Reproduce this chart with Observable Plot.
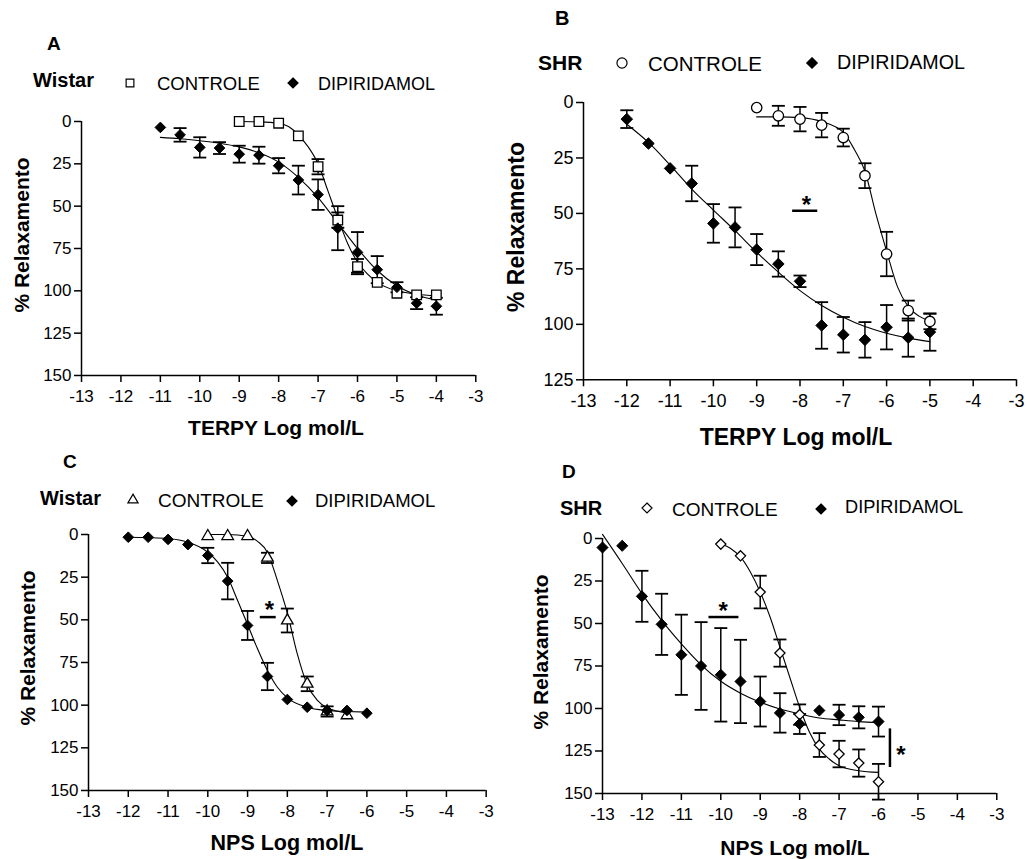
<!DOCTYPE html>
<html><head><meta charset="utf-8">
<script src="https://cdn.jsdelivr.net/npm/d3@7"></script>
<script src="https://cdn.jsdelivr.net/npm/@observablehq/plot@0.6"></script>
<style>
html,body{margin:0;padding:0;background:#fff;}
#root{position:relative;width:1027px;height:859px;overflow:hidden;background:#fff;}
</style></head><body><div id="root"></div>
<script>
// ---------- shared axes ----------
const xTicks = [-13,-12,-11,-10,-9,-8,-7,-6,-5,-4,-3];
const yTicks150 = [0,25,50,75,100,125,150];
const yTicks125 = [0,25,50,75,100,125];

// ---------- Panel A : Wistar, TERPY ----------
const aCtrlX = [-9,-8.5,-8,-7.5,-7,-6.5,-6,-5.5,-5,-4.5,-4];
const aCtrlY = [0,0,1,8.5,26.7,58.2,85.7,95,101.4,102.4,102.4];
const aCtrlE = [0,0,0,0,4.5,4.5,4.5,0,0,0,0];
const aDipX = [-11,-10.5,-10,-9.5,-9,-8.5,-8,-7.5,-7,-6.5,-6,-5.5,-5,-4.5,-4];
const aDipY = [3.5,7.9,15.3,15.7,19.3,19.9,26.1,34.6,43.2,63,77.3,87.5,97.9,107.3,109.1];
const aDipE = [0,4,6,3.5,5,5,4.5,8.5,9,13,12,8,3,3.5,5];
const aCtrlFitX = [-9,-8.5,-8,-7.75,-7.5,-7.25,-7,-6.75,-6.5,-6.25,-6,-5.75,-5.5,-5,-4.5,-4];
const aCtrlFitY = [0,0.2,1,3,8,15,25,41,57,72,83,90,95,100,102,103];
const aDipFitX = [-11,-10.5,-10,-9.5,-9,-8.5,-8,-7.5,-7,-6.5,-6,-5.5,-5,-4.5,-4];
const aDipFitY = [9.4,10.2,11.4,12.8,15,18.5,24,33,45,60,75,88,97,102.5,105.5];

// ---------- Panel B : SHR, TERPY ----------
const bCtrlX = [-9,-8.5,-8,-7.5,-7,-6.5,-6,-5.5,-5];
const bCtrlY = [2.3,6,7.5,10.2,15.8,33,68.3,93.8,98.7];
const bCtrlE = [0,4.5,5.5,5.5,4,5.6,10,4.5,3.5];
const bDipX = [-12,-11.5,-11,-10.5,-10,-9.5,-9,-8.5,-8,-7.5,-7,-6.5,-6,-5.5,-5];
const bDipY = [7.5,18.5,29.7,36.5,54.5,56.3,66.3,72.8,80.6,100.5,104.7,107,101.3,106,103.5];
const bDipE = [4,0,0,8,8.7,9,7,5.7,2.6,10.5,8,8,10,8.6,8.4];
const bCtrlFitX = [-9,-8.5,-8,-7.5,-7,-6.75,-6.5,-6.25,-6,-5.75,-5.5,-5.25,-5];
const bCtrlFitY = [6.5,6.5,6.8,8.6,13.5,21,31,50,67,83,92,96.3,98.5];
const bDipFitX = [-12,-11.5,-11,-10.5,-10,-9.5,-9,-8.5,-8,-7.5,-7,-6.5,-6,-5.5,-5];
const bDipFitY = [9.8,18,28.2,39,48.5,57.8,67.5,76.5,84.8,91.5,96.8,101,104,106.2,107.8];
const bSigX = [-8.17,-7.59], bSigY = [48.8], bStar = [-7.85, 43.5];

// ---------- Panel C : Wistar, NPS ----------
const cCtrlX = [-10,-9.5,-9,-8.5,-8,-7.5,-7,-6.5];
const cCtrlY = [1,1,1,13.7,50.4,87.5,103.7,106];
const cCtrlE = [0,0,0,3,7,4.3,3,0];
const cDipX = [-12,-11.5,-11,-10.5,-10,-9.5,-9,-8.5,-8,-7.5,-7,-6.5,-6];
const cDipY = [1.6,1.6,2.9,5.9,12.3,27.3,53.3,83.2,96.7,101.2,103.1,103.1,104.7];
const cDipE = [0,0,0,0,4.5,10.7,8.5,8,0,0,0,0,0];
const cCtrlFitX = [-10,-9.5,-9,-8.75,-8.5,-8.25,-8,-7.75,-7.5,-7.25,-7,-6.5];
const cCtrlFitY = [0,0,1,4,10.5,27,46,70,88,97,101.5,104.5];
const cDipFitX = [-12,-11.5,-11,-10.5,-10,-9.75,-9.5,-9.25,-9,-8.75,-8.5,-8.25,-8,-7.5,-7,-6.5,-6];
const cDipFitY = [1.6,1.8,2.3,4.5,10.4,16.2,25,38.7,52.7,67,79.7,89.5,95.7,101.2,103.1,103.7,104.1];
const cSigX = [-8.68,-8.28], cSigY = [48.4], cStar = [-8.45, 41];

// ---------- Panel D : SHR, NPS ----------
const dCtrlX = [-10,-9.5,-9,-8.5,-8,-7.5,-7,-6.5,-6];
const dCtrlY = [3.3,10.2,31.5,67.4,103.6,121.5,126.8,132.1,143.1];
const dCtrlE = [0,0,9.6,8,6,7,7.8,8,10.5];
const dDipX = [-13,-12.5,-12,-11.5,-11,-10.5,-10,-9.5,-9,-8.5,-8,-7.5,-7,-6.5,-6];
const dDipY = [5.3,4.3,34,50.5,68.4,75,80.2,84.1,95.9,102.6,109.1,101.2,103.8,105.2,107.7];
const dDipE = [0,0,15,18,23.6,25.8,27.5,24.5,14.7,11.6,5.9,0,6,6.5,8.8];
const dCtrlFitX = [-10,-9.75,-9.5,-9.25,-9,-8.75,-8.5,-8.25,-8,-7.75,-7.5,-7.25,-7,-6.5,-6];
const dCtrlFitY = [2.9,5.9,10.8,19.7,31.5,46.2,63.9,81.6,99.3,114,123.9,129.7,133.7,136.6,137.6];
const dDipFitX = [-13,-12.5,-12,-11.5,-11,-10.5,-10,-9.5,-9,-8.5,-8,-7.5,-7,-6.5,-6];
const dDipFitY = [-2.4,14.7,32.4,48.2,62,74.3,84,91,96.3,100.3,103.2,105.6,106.7,107.7,108.3];
const dSigX = [-10.3,-9.54], dSigY = [46.2], dStar1 = [-9.94, 39.3];
const dBarX = [-5.71], dBarY = [112,134.7], dStar2 = [-5.43, 123.8];

// ---------- helpers ----------
const FONT = '"Liberation Sans", Arial, Helvetica, sans-serif';
const root = document.getElementById("root");
const pts = (xs, ys, es) => xs.map((x, i) => ({x, y: ys[i], e: es ? es[i] : 0}));
const capSym = {draw(ctx) { ctx.moveTo(-6.5, 0); ctx.lineTo(6.5, 0); }};

function errorMarks(data) {
  const w = data.filter(d => d.e > 0);
  const caps = w.flatMap(d => [{x: d.x, y: d.y - d.e}, {x: d.x, y: d.y + d.e}]);
  return [
    Plot.ruleX(w, {x: "x", y1: d => d.y - d.e, y2: d => d.y + d.e, stroke: "#000", strokeWidth: 1.5}),
    Plot.dot(caps, {x: "x", y: "y", symbol: capSym, r: 6, fill: "none", stroke: "#000", strokeWidth: 1.8})
  ];
}

function starMarks(lineX, lineY, star) {
  return [
    Plot.ruleY([{y: lineY[0], x1: lineX[0], x2: lineX[1]}], {y: "y", x1: "x1", x2: "x2", stroke: "#000", strokeWidth: 2.5}),
    Plot.text([{x: star[0], y: star[1]}], {x: "x", y: "y", text: () => "*", fontSize: 24, fontWeight: "bold", dy: 6, fill: "#000"})
  ];
}

function makePanel(c) {
  const [fx0, fx1, fy0, fy1] = c.frame;
  const ml = 80, mr = 30, mt = 30, mb = 50;
  const width = (fx1 - fx0) + ml + mr, height = (fy1 - fy0) + mt + mb;
  const xd = [xTicks[0], xTicks[xTicks.length - 1]];
  const yd = [c.yTicks[0], c.yTicks[c.yTicks.length - 1]];
  const svg = Plot.plot({
    width, height, marginLeft: ml, marginRight: mr, marginTop: mt, marginBottom: mb,
    x: {domain: xd},
    y: {domain: yd, reverse: true},
    style: `font-family: ${FONT}; font-size: ${c.fontSize}px; color: #000; background: none; overflow: visible; position: absolute; left: ${fx0 - ml}px; top: ${fy0 - mt}px; max-width: none;`,
    marks: [
      Plot.axisX({ticks: xTicks, tickFormat: d => String(d), tickSize: 7, tickPadding: 7, strokeWidth: 1.5, label: null, fontSize: c.fontSize, fill: "#000"}),
      Plot.axisY({ticks: c.yTicks, tickFormat: d => String(d), tickSize: 7, tickPadding: 3, strokeWidth: 1.5, label: null, fontSize: c.fontSize, fill: "#000"}),
      Plot.ruleX([xd[0]], {y1: yd[0], y2: yd[1], stroke: "#000", strokeWidth: 1.5}),
      Plot.ruleY([yd[1]], {x1: xd[0], x2: xd[1], stroke: "#000", strokeWidth: 1.5}),
      Plot.line(c.ctrlFit, {x: "x", y: "y", curve: "monotone-x", stroke: "#000", strokeWidth: 1.1}),
      Plot.line(c.dipFit, {x: "x", y: "y", curve: "monotone-x", stroke: "#000", strokeWidth: 1.1}),
      ...errorMarks(c.ctrl),
      ...errorMarks(c.dip),
      Plot.dot(c.ctrl, {x: "x", y: "y", symbol: c.ctrlSymbol, r: c.ctrlR, fill: "#fff", stroke: "#000", strokeWidth: 1.3}),
      Plot.dot(c.dip, {x: "x", y: "y", symbol: "diamond2", r: c.dipR, fill: "#000", stroke: "#000", strokeWidth: 1}),
      ...(c.extra || [])
    ]
  });
  svg.style.position = "absolute";
  svg.style.left = (fx0 - ml) + "px";
  svg.style.top = (fy0 - mt) + "px";
  svg.style.maxWidth = "none";
  svg.style.fontFamily = FONT;
  svg.style.fontSize = c.fontSize + "px";
  d3.select(svg).selectAll("g[aria-label$='tick label']").attr("font-size", c.fontSize).attr("font-family", FONT);
  root.appendChild(svg);
}

makePanel({
  frame: [80.7, 475, 121, 375], yTicks: yTicks150, fontSize: 17,
  ctrl: pts(aCtrlX, aCtrlY, aCtrlE), dip: pts(aDipX, aDipY, aDipE),
  ctrlFit: pts(aCtrlFitX, aCtrlFitY), dipFit: pts(aDipFitX, aDipFitY),
  ctrlSymbol: "square", ctrlR: 5.4, dipR: 4.8
});
makePanel({
  frame: [582.7, 1015.7, 102, 379.3], yTicks: yTicks125, fontSize: 18,
  ctrl: pts(bCtrlX, bCtrlY, bCtrlE), dip: pts(bDipX, bDipY, bDipE),
  ctrlFit: pts(bCtrlFitX, bCtrlFitY), dipFit: pts(bDipFitX, bDipFitY),
  ctrlSymbol: "circle", ctrlR: 5.2, dipR: 5.2,
  extra: starMarks(bSigX, bSigY, bStar)
});
makePanel({
  frame: [88.3, 486, 534, 790], yTicks: yTicks150, fontSize: 17,
  ctrl: pts(cCtrlX, cCtrlY, cCtrlE), dip: pts(cDipX, cDipY, cDipE),
  ctrlFit: pts(cCtrlFitX, cCtrlFitY), dipFit: pts(cDipFitX, cDipFitY),
  ctrlSymbol: "triangle", ctrlR: 4.3, dipR: 4.8,
  extra: starMarks(cSigX, cSigY, cStar)
});
makePanel({
  frame: [601.7, 996, 538.3, 793.3], yTicks: yTicks150, fontSize: 17,
  ctrl: pts(dCtrlX, dCtrlY, dCtrlE), dip: pts(dDipX, dDipY, dDipE),
  ctrlFit: pts(dCtrlFitX, dCtrlFitY), dipFit: pts(dDipFitX, dDipFitY),
  ctrlSymbol: "diamond2", ctrlR: 4.6, dipR: 5,
  extra: [
    ...starMarks(dSigX, dSigY, dStar1),
    Plot.ruleX([{x: dBarX[0], y1: dBarY[0], y2: dBarY[1]}], {x: "x", y1: "y1", y2: "y2", stroke: "#000", strokeWidth: 2.5}),
    Plot.text([{x: dStar2[0], y: dStar2[1]}], {x: "x", y: "y", text: () => "*", fontSize: 24, fontWeight: "bold", dy: 6, fill: "#000"})
  ]
});

// ---------- overlay: panel letters, legends, axis titles ----------
const ov = d3.create("svg").attr("width", 1027).attr("height", 859)
  .style("position", "absolute").style("left", "0px").style("top", "0px").style("pointer-events", "none")
  .attr("font-family", FONT);
function txt(s, x, y, size, weight, anchor) {
  ov.append("text").attr("x", x).attr("y", y).attr("font-size", size).attr("font-weight", weight || "normal")
    .attr("text-anchor", anchor || "start").attr("fill", "#000").text(s);
}
function vtxt(s, cx, cy, size) {
  ov.append("text").attr("transform", `translate(${cx},${cy}) rotate(-90)`).attr("text-anchor", "middle")
    .attr("dy", "0.36em").attr("font-size", size).attr("font-weight", "bold").attr("fill", "#000").text(s);
}
function sym(type, size, cx, cy, filled) {
  ov.append("path").attr("d", d3.symbol(type, size)()).attr("transform", `translate(${cx},${cy})`)
    .attr("fill", filled ? "#000" : "#fff").attr("stroke", "#000").attr("stroke-width", 1.2);
}
const LEG_CTRL = "CONTROLE", LEG_DIP = "DIPIRIDAMOL";
const YLAB = "% Relaxamento";

// A
txt("A", 47, 50, 19, "bold");
txt("Wistar", 33, 87, 20, "bold");
sym(d3.symbolSquare, 60, 130, 83, false); txt(LEG_CTRL, 157, 90, 18.5);
sym(d3.symbolDiamond2, 64, 293, 83, true); txt(LEG_DIP, 318, 90, 18);
txt("TERPY Log mol/L", 276, 435, 21, "bold", "middle");
vtxt(YLAB, 21, 235, 21);
// B
txt("B", 555, 25, 20, "bold");
txt("SHR", 538, 70, 21, "bold");
sym(d3.symbolCircle, 80, 622, 63, false); txt(LEG_CTRL, 648, 71, 20.5);
sym(d3.symbolDiamond2, 70, 812, 63, true); txt(LEG_DIP, 837, 69, 19.7);
txt("TERPY Log mol/L", 796, 445, 23, "bold", "middle");
vtxt(YLAB, 516, 227, 23);
// C
txt("C", 63, 468, 19, "bold");
txt("Wistar", 40, 505, 20, "bold");
sym(d3.symbolTriangle, 45, 133, 500, false); txt(LEG_CTRL, 158, 507, 19);
sym(d3.symbolDiamond2, 64, 292, 501, true); txt(LEG_DIP, 315, 507, 18.5);
txt("NPS Log mol/L", 287, 850, 21.5, "bold", "middle");
vtxt(YLAB, 27.5, 648, 21);
// D
txt("D", 562, 478, 19, "bold");
txt("SHR", 560, 515, 20, "bold");
sym(d3.symbolDiamond2, 64, 647, 508, false); txt(LEG_CTRL, 672, 516, 19);
sym(d3.symbolDiamond2, 64, 821, 509, true); txt(LEG_DIP, 845, 513, 18.2);
txt("NPS Log mol/L", 795, 855, 21, "bold", "middle");
vtxt(YLAB, 540, 652, 21);

root.appendChild(ov.node());
</script></body></html>
